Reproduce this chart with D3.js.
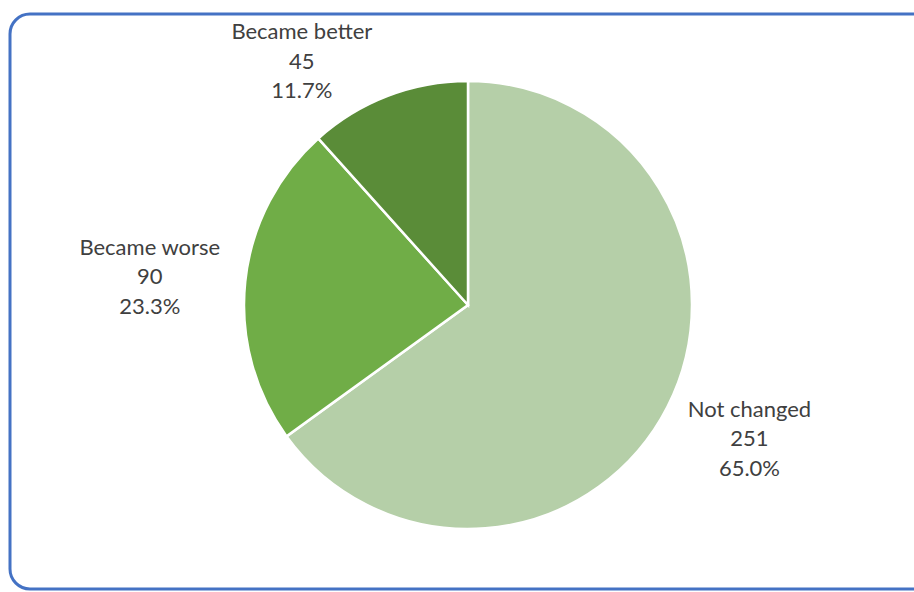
<!DOCTYPE html>
<html>
<head>
<meta charset="utf-8">
<script src="https://cdn.jsdelivr.net/npm/d3@7"></script>
<style>
  html, body { margin: 0; padding: 0; background: #fff; }
  svg { display: block; }
</style>
</head>
<body>
<div class="canvas"></div>
<script>
const categories = ["Not changed", "Became worse", "Became better"];
const counts = [251, 90, 45];
const percentLabels = ["65.0%", "23.3%", "11.7%"];
const colors = ["#b5cfa8", "#70ad47", "#5a8c38"];

const totalWidth = 914;
const totalHeight = 592;
const cx = 468, cy = 305, radius = 224;

const svg = d3.select(".canvas")
  .append("svg")
  .attr("width", totalWidth)
  .attr("height", totalHeight);

// frame
svg.append("rect")
  .attr("x", 10).attr("y", 14)
  .attr("width", 940).attr("height", 575)
  .attr("rx", 20).attr("ry", 20)
  .attr("fill", "#fff")
  .attr("stroke", "#4472c4")
  .attr("stroke-width", 3);

const data = categories.map((c, i) => ({ name: c, value: counts[i], pct: percentLabels[i], color: colors[i] }));

const pie = d3.pie().value(d => d.value).sort(null);
const arc = d3.arc().innerRadius(0).outerRadius(radius);

const graph = svg.append("g").attr("transform", `translate(${cx},${cy})`);

const arcs = pie(data);

graph.selectAll("path")
  .data(arcs)
  .enter()
  .append("path")
  .attr("d", arc)
  .attr("fill", d => d.data.color)
  .attr("stroke", "#fff")
  .attr("stroke-width", 2.5)
  .attr("stroke-linejoin", "miter");

// labels sit outside the pie along the slice's mid angle
const labelRadius = 316;
const nudge = { "Not changed": [0, -10], "Became worse": [-4, 5], "Became better": [-53, 0] };
const minTop = 61;

arcs.forEach(a => {
  const mid = (a.startAngle + a.endAngle) / 2;
  let x = Math.sin(mid) * labelRadius;
  let y = -Math.cos(mid) * labelRadius;
  if (cy + y < minTop) y = minTop - cy;
  x += nudge[a.data.name][0];
  y += nudge[a.data.name][1];

  const t = graph.append("text")
    .attr("text-anchor", "middle")
    .attr("font-family", "Lato, 'Open Sans', sans-serif")
    .attr("font-size", 22)
    .attr("fill", "#404040");
  [a.data.name, a.data.value, a.data.pct].forEach((line, i) => {
    t.append("tspan")
      .attr("x", x)
      .attr("y", y + (i - 1) * 29.5)
      .attr("dy", "0.35em")
      .text(line);
  });
});
</script>
</body>
</html>
